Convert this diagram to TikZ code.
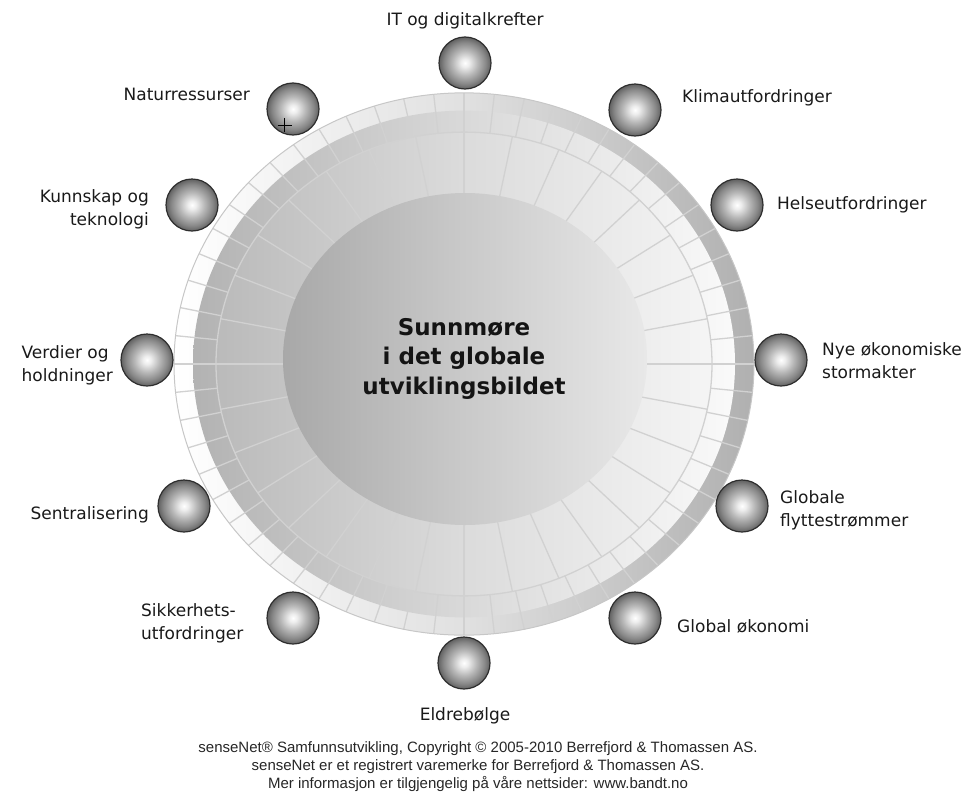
\documentclass[tikz,border=0pt]{standalone}
\usepackage{fontspec}
\setmainfont{DejaVu Sans}
\newfontfamily\footfont{Liberation Sans}
% shaded sphere used for the twelve driver markers
\pgfdeclareradialshading{ballshade}{\pgfpoint{0bp}{0bp}}{%
  color(0bp)=(white); color(4bp)=(black!7); color(12bp)=(black!28);
  color(20bp)=(black!47); color(25bp)=(black!62); color(50bp)=(black!62)}
\begin{document}
\begin{tikzpicture}[x=1pt,y=-1pt,
  cellline/.style={draw=black!18, line width=1.3pt},
  rimline/.style={draw=black!22, line width=1pt},
  ball/.style={circle, inner sep=0pt, minimum size=52pt, shading=ballshade,
    draw=black!82, line width=1.2pt},
  lbl/.style={font=\fontsize{17}{23}\selectfont, text=black!90, inner sep=0pt},
  corelbl/.style={font=\bfseries\fontsize{23}{29.5}\selectfont, text=black!92,
    align=center, inner sep=0pt},
  footlbl/.style={font=\footfont\fontsize{15}{18}\selectfont, text=black!85,
    align=center, inner sep=0pt}]
\useasboundingbox (0,0) rectangle (968,803);

% ---- the disc: outer rim, cell ring, sector field ----
\begin{scope}[shift={(464,364)}, yscale=0.935]
  \shade[left color=white, right color=black!31, middle color=black!12]
    (0,0) circle[radius=290];
  \shade[left color=black!30, right color=black!2, middle color=black!15]
    (0,0) circle[radius=271];
  \shade[left color=black!27, right color=black!4, middle color=black!14]
    (0,0) circle[radius=248];
  \foreach \a in {0,6,...,354}
    \draw[cellline] (\a:248) -- (\a:290);
  \foreach \i in {0,...,31}
    \draw[cellline] ({\i*11.25}:160) -- ({\i*11.25}:248);
  \draw[cellline] (0,0) circle[radius=248];
  \draw[rimline] (0,0) circle[radius=290];
\end{scope}

% ---- centre ----
\shade[left color=black!34, right color=black!9, middle color=black!21]
  (465,359) ellipse[x radius=182, y radius=166];
\node[corelbl] (core) at (464,358.5) {Sunnmøre\\i det globale\\utviklingsbildet};

% ---- driver markers ----
\node[ball] (b1)  at (465,63)  {};
\node[ball] (b2)  at (635,110) {};
\node[ball] (b3)  at (737,205) {};
\node[ball] (b4)  at (781,360) {};
\node[ball] (b5)  at (742,506) {};
\node[ball] (b6)  at (635,618) {};
\node[ball] (b7)  at (464,663) {};
\node[ball] (b8)  at (293,618) {};
\node[ball] (b9)  at (184,506) {};
\node[ball] (b10) at (147,360) {};
\node[ball] (b11) at (192,205) {};
\node[ball] (b12) at (293,109) {};

% pointer cross
\draw[black, line width=0.9pt] (277.5,125) -- (291.5,125) (284.5,118) -- (284.5,132);

% ---- driver labels ----
\node[lbl] (t1) at (465,21) {IT og digitalkrefter};
\node[lbl, anchor=west] (t2) at (682,98) {Klimautfordringer};
\node[lbl, anchor=west] (t3) at (777,204.5) {Helseutfordringer};
\node[lbl, anchor=west, align=left] (t4) at (822,361) {Nye økonomiske\\stormakter};
\node[lbl, anchor=west, align=left] (t5) at (780,510) {Globale\\flyttestrømmer};
\node[lbl, anchor=west] (t6) at (677,626.5) {Global økonomi};
\node[lbl] (t7) at (465,715.5) {Eldrebølge};
\node[lbl, anchor=west, align=left] (t8) at (141,623) {Sikkerhets-\\utfordringer};
\node[lbl, anchor=east] (t9) at (149,514.5) {Sentralisering};
\node[lbl, anchor=east, align=left] (t10) at (113,365) {Verdier og\\holdninger};
\node[lbl, anchor=east, align=right] (t11) at (149,209) {Kunnskap og\\teknologi};
\node[lbl, anchor=east] (t12) at (250,94.5) {Naturressurser};

% ---- footer ----
\node[footlbl] (foot) at (478,767) {senseNet® Samfunnsutvikling, Copyright © 2005-2010 Berrefjord \& Thomassen AS.\\
senseNet er et registrert varemerke for Berrefjord \& Thomassen AS.\\
Mer informasjon er tilgjengelig på våre nettsider: www.bandt.no};
\end{tikzpicture}
\end{document}
